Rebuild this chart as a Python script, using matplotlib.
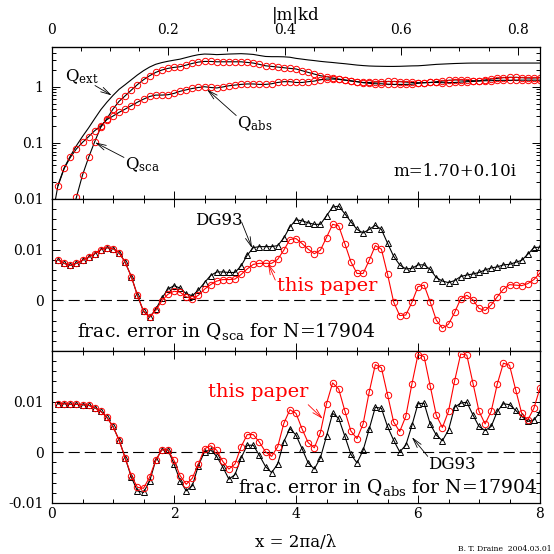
import numpy as np
import matplotlib.pyplot as plt
from matplotlib.ticker import MultipleLocator, FixedLocator, FixedFormatter, LogLocator, NullFormatter

plt.rcParams['font.family'] = 'DejaVu Serif'
plt.rcParams['mathtext.fontset'] = 'dejavuserif'

# sample points, x = 2 pi a / lambda
x = np.arange(1, 81) / 10.0
x_ext = np.concatenate([[0.05], x])

# top panel: efficiency factors (m = 1.70 + 0.10i)
q_ext = [0.009,
         0.018, 0.036, 0.058, 0.089, 0.13, 0.185, 0.27, 0.39, 0.53, 0.70,
         0.90, 1.09, 1.33, 1.62, 1.93, 2.24, 2.51, 2.69, 2.84, 2.97,
         3.10, 3.31, 3.53, 3.72, 3.82, 3.79, 3.73, 3.77, 3.82, 3.85,
         3.88, 3.83, 3.76, 3.60, 3.46, 3.43, 3.43, 3.41, 3.35, 3.20,
         3.10, 3.00, 2.92, 2.83, 2.76, 2.70, 2.63, 2.57, 2.50, 2.43,
         2.38, 2.34, 2.32, 2.31, 2.30, 2.30, 2.31, 2.33, 2.35, 2.36,
         2.40, 2.45, 2.50, 2.53, 2.56, 2.59, 2.61, 2.63, 2.64, 2.64,
         2.64, 2.64, 2.64, 2.64, 2.64, 2.64, 2.64, 2.64, 2.64, 2.64]
q_sca = [0.0002, 0.0012, 0.0045, 0.0107, 0.0267, 0.055, 0.105, 0.19, 0.27, 0.40,
         0.55, 0.69, 0.87, 1.09, 1.33, 1.57, 1.80, 1.98, 2.12, 2.21,
         2.27, 2.43, 2.60, 2.75, 2.82, 2.82, 2.78, 2.78, 2.78, 2.78,
         2.78, 2.71, 2.64, 2.50, 2.36, 2.30, 2.24, 2.18, 2.12, 2.07,
         1.93, 1.80, 1.68, 1.57, 1.51, 1.43, 1.37, 1.32, 1.26, 1.23,
         1.19, 1.19, 1.21, 1.23, 1.24, 1.24, 1.23, 1.21, 1.19, 1.18,
         1.18, 1.19, 1.23, 1.26, 1.30, 1.32, 1.32, 1.30, 1.28, 1.28,
         1.32, 1.37, 1.41, 1.45, 1.47, 1.47, 1.45, 1.43, 1.43, 1.45]
q_abs = [0.0173, 0.035, 0.055, 0.078, 0.102, 0.129, 0.165, 0.20, 0.26, 0.30,
         0.35, 0.40, 0.46, 0.53, 0.60, 0.67, 0.71, 0.71, 0.72, 0.76,
         0.83, 0.88, 0.93, 0.97, 1.00, 0.97, 0.95, 0.99, 1.04, 1.07,
         1.10, 1.12, 1.12, 1.10, 1.10, 1.13, 1.19, 1.23, 1.23, 1.19,
         1.19, 1.23, 1.26, 1.33, 1.37, 1.37, 1.35, 1.31, 1.28, 1.23,
         1.18, 1.15, 1.13, 1.13, 1.11, 1.10, 1.10, 1.10, 1.11, 1.15,
         1.18, 1.19, 1.19, 1.18, 1.18, 1.19, 1.21, 1.23, 1.24, 1.26,
         1.28, 1.28, 1.30, 1.30, 1.30, 1.31, 1.31, 1.31, 1.31, 1.31]

# middle panel: fractional error in Q_sca
sca_paper = [0.0080, 0.0073, 0.0069, 0.0073, 0.0079, 0.0085, 0.0092, 0.0100, 0.0104, 0.0102,
             0.0094, 0.0075, 0.0047, 0.0010, -0.0021, -0.0033, -0.0020, -0.0001, 0.0012, 0.0018,
             0.0016, 0.0007, 0.0003, 0.0010, 0.0022, 0.0031, 0.0038, 0.0041, 0.0041, 0.0042,
             0.0051, 0.0062, 0.0071, 0.0073, 0.0073, 0.0073, 0.0081, 0.0099, 0.0120, 0.0122,
             0.0112, 0.0101, 0.0092, 0.0099, 0.0124, 0.0150, 0.0147, 0.0112, 0.0076, 0.0053,
             0.0053, 0.0079, 0.0108, 0.0101, 0.0052, -0.0003, -0.0030, -0.0029, -0.0004, 0.0027,
             0.0030, -0.0003, -0.0039, -0.0055, -0.0047, -0.0024, 0.0003, 0.0010, 0.0001, -0.0016,
             -0.0020, -0.0009, 0.0007, 0.0022, 0.0031, 0.0030, 0.0029, 0.0033, 0.0041, 0.0054]
sca_dg93 = [0.0080, 0.0073, 0.0069, 0.0073, 0.0079, 0.0085, 0.0092, 0.0100, 0.0104, 0.0102,
            0.0094, 0.0075, 0.0047, 0.0010, -0.0022, -0.0033, -0.0018, 0.0004, 0.0022, 0.0029,
            0.0024, 0.0013, 0.0009, 0.0020, 0.0035, 0.0049, 0.0056, 0.0056, 0.0055, 0.0055,
            0.0068, 0.0089, 0.0104, 0.0106, 0.0106, 0.0106, 0.0108, 0.0123, 0.0145, 0.0159,
            0.0157, 0.0153, 0.0150, 0.0150, 0.0167, 0.0184, 0.0186, 0.0171, 0.0155, 0.0140,
            0.0133, 0.0140, 0.0148, 0.0140, 0.0113, 0.0087, 0.0070, 0.0062, 0.0063, 0.0070,
            0.0070, 0.0061, 0.0045, 0.0038, 0.0035, 0.0039, 0.0047, 0.0050, 0.0052, 0.0055,
            0.0060, 0.0064, 0.0066, 0.0070, 0.0071, 0.0075, 0.0079, 0.0091, 0.0104, 0.0105]

# bottom panel: fractional error in Q_abs
abs_paper = [0.0095, 0.0096, 0.0095, 0.0095, 0.0094, 0.0093, 0.0088, 0.0081, 0.0069, 0.0051,
             0.0024, -0.0011, -0.0046, -0.0069, -0.0071, -0.0049, -0.0016, 0.0005, 0.0005, -0.0016,
             -0.0046, -0.0063, -0.0051, -0.0023, 0.0007, 0.0013, 0.0004, -0.0018, -0.0033, -0.0023,
             0.0011, 0.0035, 0.0035, 0.0020, 0.0001, -0.0008, 0.0011, 0.0057, 0.0084, 0.0077,
             0.0046, 0.0019, 0.0009, 0.0039, 0.0096, 0.0137, 0.0125, 0.0082, 0.0042, 0.0027,
             0.0056, 0.0119, 0.0173, 0.0167, 0.0114, 0.0060, 0.0041, 0.0071, 0.0135, 0.0193,
             0.0189, 0.0131, 0.0073, 0.0049, 0.0081, 0.0141, 0.0194, 0.0192, 0.0137, 0.0081,
             0.0056, 0.0081, 0.0135, 0.0176, 0.0172, 0.0124, 0.0077, 0.0064, 0.0087, 0.0127]
abs_dg93 = [0.0096, 0.0096, 0.0095, 0.0095, 0.0094, 0.0093, 0.0088, 0.0081, 0.0069, 0.0051,
            0.0024, -0.0011, -0.0049, -0.0076, -0.0079, -0.0057, -0.0016, 0.0005, 0.0005, -0.0023,
            -0.0056, -0.0076, -0.0066, -0.0026, 0.0001, 0.0005, -0.0008, -0.0029, -0.0053, -0.0044,
            -0.0011, 0.0014, 0.0014, -0.0006, -0.0028, -0.0040, -0.0023, 0.0021, 0.0047, 0.0034,
            0.0007, -0.0021, -0.0033, -0.0011, 0.0032, 0.0077, 0.0067, 0.0032, -0.0004, -0.0021,
            0.0004, 0.0046, 0.0089, 0.0087, 0.0051, 0.0024, 0.0001, 0.0014, 0.0053, 0.0096,
            0.0097, 0.0056, 0.0034, 0.0023, 0.0044, 0.0089, 0.0097, 0.0099, 0.0074, 0.0051,
            0.0043, 0.0051, 0.0081, 0.0096, 0.0094, 0.0083, 0.0071, 0.0061, 0.0064, 0.0079]

# top axis ticks in |m|kd
mkd_major = [0.0, 0.2, 0.4, 0.6, 0.8]
mkd_labels = ['0', '0.2', '0.4', '0.6', '0.8']
mkd_minor = [0.05, 0.1, 0.15, 0.25, 0.3, 0.35, 0.45, 0.5, 0.55, 0.65, 0.7, 0.75]
mkd_per_x = 0.1048  # |m| k d per unit x for N=17904

red = '#ff0000'
ms = 4.6
mew = 0.7
lw = 0.8
arr = dict(arrowstyle='->,head_length=0.7,head_width=0.18', lw=0.6, shrinkA=0, shrinkB=0)

fig, axes = plt.subplots(3, 1, figsize=(5.54, 5.54), dpi=100, sharex=True)
fig.subplots_adjust(left=52/554, right=540/554, top=1-47/554, bottom=1-503/554, hspace=0)
ax0, ax1, ax2 = axes

for ax in axes:
    ax.set_xlim(0, 8)
    ax.xaxis.set_major_locator(MultipleLocator(2))
    ax.xaxis.set_minor_locator(MultipleLocator(0.5))
    ax.tick_params(which='both', direction='in', top=True, right=True, labelsize=10)
    ax.tick_params(which='major', length=5.5, width=0.7)
    ax.tick_params(which='minor', length=3, width=0.7)
    ax.tick_params(axis='y', pad=6)
    ax.tick_params(axis='x', pad=3)
    for s in ax.spines.values():
        s.set_linewidth(0.9)

# ---- top panel
ax0.plot(x_ext, q_ext, color='k', lw=lw)
ax0.plot(x, q_sca, color='k', lw=lw, marker='o', ms=ms, mfc='none', mec=red, mew=mew)
ax0.plot(x, q_abs, color='k', lw=lw, marker='o', ms=ms, mfc='none', mec=red, mew=mew)
ax0.set_yscale('log')
ax0.set_ylim(0.01, 5.1)
ax0.yaxis.set_major_locator(FixedLocator([0.01, 0.1, 1]))
ax0.yaxis.set_major_formatter(FixedFormatter(['0.01', '0.1', '1']))
ax0.yaxis.set_minor_locator(LogLocator(base=10, subs=np.arange(2, 10)))
ax0.yaxis.set_minor_formatter(NullFormatter())
ax0.tick_params(which='both', top=False)

sec = ax0.secondary_xaxis('top', functions=(lambda v: v * mkd_per_x, lambda v: v / mkd_per_x))
sec.xaxis.set_major_locator(FixedLocator(mkd_major))
sec.xaxis.set_major_formatter(FixedFormatter(mkd_labels))
sec.xaxis.set_minor_locator(FixedLocator(mkd_minor))
sec.tick_params(which='both', direction='in', labelsize=10, pad=7)
sec.tick_params(which='major', length=5.5, width=0.7)
sec.tick_params(which='minor', length=3, width=0.7)
sec.set_xlabel('|m|kd', fontsize=12, labelpad=2)

ax0.text(0.21, 1.24, r'$\mathrm{Q_{ext}}$', fontsize=12)
ax0.annotate('', xy=(0.98, 0.70), xytext=(0.705, 1.05), arrowprops=arr)
ax0.text(1.20, 0.034, r'$\mathrm{Q_{sca}}$', fontsize=12)
ax0.annotate('', xy=(0.705, 0.102), xytext=(1.18, 0.055), arrowprops=arr)
ax0.text(3.03, 0.185, r'$\mathrm{Q_{abs}}$', fontsize=12)
ax0.annotate('', xy=(2.54, 0.895), xytext=(3.02, 0.307), arrowprops=arr)
ax0.text(7.62, 0.026, 'm=1.70+0.10i', fontsize=12, ha='right')

# ---- middle panel
ax1.axhline(0, color='k', lw=0.8, ls=(0, (10, 4.5)))
ax1.plot(x, sca_dg93, color='k', lw=lw, marker='^', ms=ms, mfc='none', mec='k', mew=mew)
ax1.plot(x, sca_paper, color=red, lw=lw, marker='o', ms=ms, mfc='none', mec=red, mew=mew)
ax1.set_ylim(-0.01, 0.02)
ax1.yaxis.set_major_locator(FixedLocator([-0.01, 0, 0.01, 0.02]))
ax1.yaxis.set_major_formatter(FixedFormatter(['', '0', '0.01', '']))
ax1.yaxis.set_minor_locator(MultipleLocator(0.002))

ax1.text(2.34, 0.0148, 'DG93', fontsize=12)
ax1.annotate('', xy=(3.28, 0.0103), xytext=(3.11, 0.0154), arrowprops=arr)
ax1.text(3.69, 0.0018, 'this paper', fontsize=14, color=red)
ax1.annotate('', xy=(3.54, 0.0073), xytext=(3.66, 0.0040), arrowprops=dict(arr, color=red))
ax1.text(0.41, -0.0072, r'frac. error in $\mathrm{Q_{sca}}$ for N=17904', fontsize=13.5)

# ---- bottom panel
ax2.axhline(0, color='k', lw=0.8, ls=(0, (10, 4.5)))
ax2.plot(x, abs_dg93, color='k', lw=lw, marker='^', ms=ms, mfc='none', mec='k', mew=mew)
ax2.plot(x, abs_paper, color=red, lw=lw, marker='o', ms=ms, mfc='none', mec=red, mew=mew)
ax2.set_ylim(-0.01, 0.02)
ax2.yaxis.set_major_locator(FixedLocator([-0.01, 0, 0.01, 0.02]))
ax2.yaxis.set_major_formatter(FixedFormatter(['-0.01', '0', '0.01', '']))
ax2.yaxis.set_minor_locator(MultipleLocator(0.002))

ax2.text(2.56, 0.0110, 'this paper', fontsize=14, color=red)
ax2.annotate('', xy=(4.44, 0.0066), xytext=(4.20, 0.0094), arrowprops=dict(arr, color=red))
ax2.text(6.16, -0.0032, 'DG93', fontsize=12)
ax2.annotate('', xy=(5.90, 0.0030), xytext=(6.16, -0.0008), arrowprops=arr)
ax2.text(3.05, -0.0080, r'frac. error in $\mathrm{Q_{abs}}$ for N=17904', fontsize=13.5)

ax2.set_xlabel('x = 2πa/λ', fontsize=12, labelpad=9)

fig.text(552/554, 1 - 551/554, 'B. T. Draine  2004.03.01', fontsize=5.5, ha='right', va='baseline')

plt.savefig('out.png', dpi=100)
